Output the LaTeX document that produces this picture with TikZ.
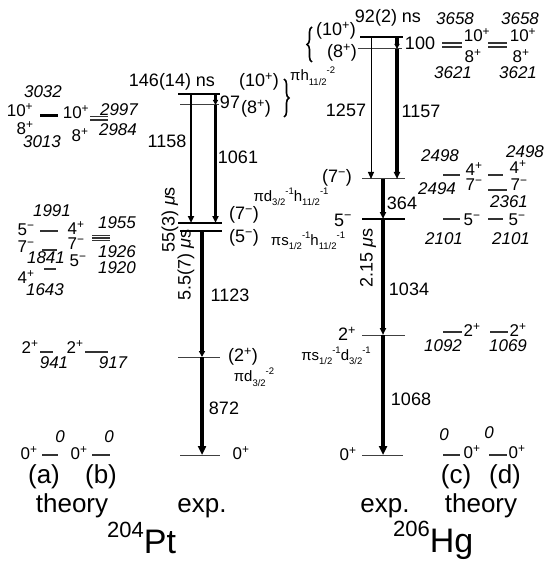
\documentclass[tikz,border=0pt]{standalone}
\usepackage{fontspec}
\setmainfont{Liberation Sans}
\usetikzlibrary{arrows.meta,decorations.pathreplacing}
\newcommand\jp[2]{#1\textsuperscript{#2}}
\newcommand\orbx[3]{#1\raisebox{-0.55ex}{\fontsize{9.5}{9.5}\selectfont#2}\raisebox{0.9ex}{\fontsize{9.5}{9.5}\selectfont#3}}
\begin{document}
\begin{tikzpicture}[x=1pt,y=-1pt,
  lab/.style={inner sep=0pt, font=\fontsize{18}{18}\selectfont},
  en/.style={inner sep=0pt, font=\fontsize{17}{17}\selectfont\itshape},
  sp/.style={inner sep=0pt, font=\fontsize{17}{17}\selectfont},
  big/.style={inner sep=0pt, font=\fontsize{26}{26}\selectfont},
  orb/.style={inner sep=0pt, font=\fontsize{15}{15}\selectfont},
  levthin/.style={line width=1pt, black!75},
  levthick/.style={line width=2.8pt},
  thlev/.style={line width=1.1pt, black!80},
  tr/.style={-{Triangle[length=7pt,width=6pt]}},
  brc/.style={decorate, decoration={brace, amplitude=5pt}, line width=1.6pt}]
\useasboundingbox (0,0) rectangle (551,561);

% ================= 204Pt experiment =================
\coordinate (P10L) at (178,94);  \coordinate (P10R) at (220,94);
\coordinate (P8L)  at (180,105); \coordinate (P8R)  at (219,105);
\coordinate (P7L)  at (178,223); \coordinate (P7R)  at (222,223);
\coordinate (P5L)  at (180,231); \coordinate (P5R)  at (222,231);
\coordinate (P2L)  at (178,357); \coordinate (P2R)  at (220,357);
\coordinate (P0L)  at (180,455); \coordinate (P0R)  at (220,455);
\draw[levthick] (P10L) -- (P10R);
\draw[levthin] (P8L) -- (P8R);
\draw[levthick] (P7L) -- (P7R);
\draw[line width=2.4pt] (P5L) -- (P5R);
\draw[levthin] (P2L) -- (P2R);
\draw[levthin] (P0L) -- (P0R);

\coordinate (t1158a) at (191,94);  \coordinate (t1158b) at (191,223);
\coordinate (t97a)   at (215.5,94);  \coordinate (t97b)   at (215.5,105);
\coordinate (t1061a) at (215.5,105); \coordinate (t1061b) at (215.5,223);
\coordinate (t1123a) at (202,231); \coordinate (t1123b) at (202,357);
\coordinate (t872a)  at (202,357); \coordinate (t872b)  at (202,455);
\draw[tr, line width=1.8pt] (t1158a) -- (t1158b);
\draw[-{Triangle[length=5pt,width=5pt]}, line width=3.2pt] (t97a) -- (t97b);
\draw[tr, line width=3.2pt] (t1061a) -- (t1061b);
\draw[-{Triangle[length=6pt,width=6pt]}, line width=4pt] (t1123a) -- (t1123b);
\draw[-{Triangle[length=9pt,width=8pt]}, line width=4pt] (t872a) -- (t872b);

\node[lab] (ptns) at (172,82) {146(14) ns};
\node[lab] (pt10) at (259,82) {(\jp{10}{+})};
\node[lab] (pt8) at (256,109) {(\jp{8}{+})};
\draw[brc] (284,79) -- (284,117);
\node[lab] (pt97) at (230,102) {97};
\node[lab] (pt1158) at (167,141) {1158};
\node[lab] (pt1061) at (238,157) {1061};
\node[lab, rotate=90] (pt55) at (170,220) {55(3) \textit{μ}s};
\node[orb] (pdh) at (291,197) {π\orbx{d}{3/2}{-1}\orbx{h}{11/2}{-1}};
\node[lab] (pt7) at (244,215) {(\jp{7}{−})};
\node[lab] (pt5) at (244,238) {(\jp{5}{−})};
\node[orb] (psh) at (308,241) {π\orbx{s}{1/2}{-1}\orbx{h}{11/2}{-1}};
\node[lab, rotate=90] (pt55b) at (186,265) {5.5(7) \textit{μ}s};
\node[lab] (pt1123) at (230,295) {1123};
\node[lab] (pt2) at (243,357) {(\jp{2}{+})};
\node[orb] (pdd) at (254,377) {π\orbx{d}{3/2}{-2}};
\node[lab] (pt872) at (224,408) {872};
\node[sp] (pt0) at (241,453) {\jp{0}{+}};

% ================= 204Pt theory =================
\draw[line width=3pt] (40,116) -- (58,116);
\draw[thlev] (90,116.5) -- (108,116.5);
\draw[thlev] (90,120) -- (108,120);
\node[en] (a3032) at (43,92) {3032};
\node[sp] (a10) at (20,110) {\jp{10}{+}};
\node[sp] (a8) at (25,128) {\jp{8}{+}};
\node[en] (a3013) at (42,142) {3013};
\node[sp] (b10) at (76,112) {\jp{10}{+}};
\node[en] (b2997) at (119,110) {2997};
\node[sp] (b8) at (80,135) {\jp{8}{+}};
\node[en] (b2984) at (118,130) {2984};

\draw[thlev] (40,231) -- (58,231);
\draw[thlev] (42,250) -- (57,250);
\draw[thlev] (44,269) -- (56,269);
\node[en] (a1991) at (52,211) {1991};
\node[sp] (a5) at (26,230) {\jp{5}{−}};
\node[sp] (a7) at (26,247) {\jp{7}{−}};
\node[en] (a1841) at (46,258) {1841};
\node[sp] (a4) at (26,277) {\jp{4}{+}};
\node[en] (a1643) at (45,290) {1643};
\draw[thlev] (92,235.5) -- (110,235.5);
\draw[thlev] (92,238) -- (110,238);
\draw[thlev] (92,240.5) -- (110,240.5);
\node[sp] (b4) at (76,228) {\jp{4}{+}};
\node[en] (b1955) at (117,223) {1955};
\node[sp] (b7) at (76,244) {\jp{7}{−}};
\node[en] (b1926) at (117,252) {1926};
\node[sp] (b5) at (78,261) {\jp{5}{−}};
\node[en] (b1920) at (117,268) {1920};

\draw[thlev] (40,352) -- (53,352);
\draw[thlev] (85,352) -- (108,352);
\node[sp] (a2) at (30,347) {\jp{2}{+}};
\node[en] (a941) at (54,363) {941};
\node[sp] (b2) at (75,347) {\jp{2}{+}};
\node[en] (b917) at (113,363) {917};

\draw[thlev] (42,455) -- (58,455);
\draw[thlev] (92,455) -- (110,455);
\node[sp] (a0) at (29,453) {\jp{0}{+}};
\node[en] (a0e) at (60,437) {0};
\node[sp] (b0) at (79,453) {\jp{0}{+}};
\node[en] (b0e) at (109,437) {0};
\node[big, anchor=base] (pa) at (44,483) {(a)};
\node[big, anchor=base] (pb) at (101,483) {(b)};
\node[big, anchor=base] (pth1) at (72,512) {theory};
\node[big, anchor=base] (pex) at (202,512) {exp.};
\node[inner sep=0pt, anchor=base west] (ptname) at (107,553) {\raisebox{16pt}{\fontsize{22}{22}\selectfont 204}\fontsize{34}{34}\selectfont Pt};

% ================= 206Hg experiment =================
\coordinate (H10L) at (360,37);  \coordinate (H10R) at (403,37);
\coordinate (H8L)  at (358,49);  \coordinate (H8R)  at (402,49);
\coordinate (H7L)  at (362,179); \coordinate (H7R)  at (405,179);
\coordinate (H5L)  at (362,219); \coordinate (H5R)  at (405,219);
\coordinate (H2L)  at (362,335); \coordinate (H2R)  at (405,335);
\coordinate (H0L)  at (362,455); \coordinate (H0R)  at (403,455);
\draw[levthick] (H10L) -- (H10R);
\draw[levthin] (H8L) -- (H8R);
\draw[levthin] (H7L) -- (H7R);
\draw[levthick] (H5L) -- (H5R);
\draw[levthin] (H2L) -- (H2R);
\draw[levthin] (H0L) -- (H0R);

\coordinate (t1257a) at (371,37);  \coordinate (t1257b) at (371,179);
\coordinate (t100a)  at (397,37);  \coordinate (t100b)  at (397,49);
\coordinate (t1157a) at (397,49);  \coordinate (t1157b) at (397,179);
\coordinate (t364a)  at (383,179); \coordinate (t364b)  at (383,219);
\coordinate (t1034a) at (383,219); \coordinate (t1034b) at (383,335);
\coordinate (t1068a) at (383,335); \coordinate (t1068b) at (383,455);
\draw[tr, line width=1pt] (t1257a) -- (t1257b);
\draw[-{Triangle[length=5pt,width=5pt]}, line width=3.2pt] (t100a) -- (t100b);
\draw[tr, line width=3.4pt] (t1157a) -- (t1157b);
\draw[tr, line width=4pt] (t364a) -- (t364b);
\draw[tr, line width=4pt] (t1034a) -- (t1034b);
\draw[-{Triangle[length=9pt,width=8pt]}, line width=4pt] (t1068a) -- (t1068b);

\node[lab] (hgns) at (388,18) {92(2) ns};
\node[lab] (hg10) at (336,31) {(\jp{10}{+})};
\node[lab] (hg8) at (342,53) {(\jp{8}{+})};
\draw[brc] (312,62) -- (312,27);
\node[orb, anchor=west] (hh) at (290,76) {π\orbx{h}{11/2}{-2}};
\node[lab] (hg100) at (420,43) {100};
\node[lab] (hg1257) at (346,110) {1257};
\node[lab] (hg1157) at (421,111) {1157};
\node[lab] (hg7) at (337,178) {(\jp{7}{−})};
\node[lab] (hg364) at (402,203) {364};
\node[lab] (hg5) at (343,220) {\jp{5}{−}};
\node[lab, rotate=90] (hg215) at (368,258) {2.15 \textit{μ}s};
\node[lab] (hg1034) at (409,289) {1034};
\node[lab] (hg2) at (347,334) {\jp{2}{+}};
\node[orb] (hgsd) at (336,356) {π\orbx{s}{1/2}{-1}\orbx{d}{3/2}{-1}};
\node[lab] (hg1068) at (411,399) {1068};
\node[sp] (hg0) at (348,454) {\jp{0}{+}};

% ================= 206Hg theory =================
\draw[thlev] (442,43) -- (462,43);
\draw[thlev] (442,47) -- (462,47);
\draw[thlev] (488,43) -- (507,43);
\draw[thlev] (488,47) -- (507,47);
\node[en] (c3658) at (455,19) {3658};
\node[en] (d3658) at (520,19) {3658};
\node[sp] (c10) at (477,35) {\jp{10}{+}};
\node[sp] (d10) at (523,35) {\jp{10}{+}};
\node[sp] (c8) at (473,56) {\jp{8}{+}};
\node[sp] (d8) at (521,56) {\jp{8}{+}};
\node[en] (c3621) at (453,73) {3621};
\node[en] (d3621) at (518,73) {3621};

\draw[thlev] (443,175) -- (460,175);
\draw[thlev] (488,175) -- (503,175);
\draw[thlev] (488,190) -- (507,190);
\node[en] (c2498) at (440,156) {2498};
\node[en] (d2498) at (525,152) {2498};
\node[sp] (c4) at (474,169) {\jp{4}{+}};
\node[sp] (d4) at (518,167) {\jp{4}{+}};
\node[sp] (c7) at (474,185) {\jp{7}{−}};
\node[sp] (d7) at (519,185) {\jp{7}{−}};
\node[en] (c2494) at (437,189) {2494};
\node[en] (d2361) at (509,202) {2361};

\draw[thlev] (443,219) -- (460,219);
\draw[thlev] (488,219) -- (503,219);
\node[sp] (c5) at (472,220) {\jp{5}{−}};
\node[sp] (d5) at (517,220) {\jp{5}{−}};
\node[en] (c2101) at (444,239) {2101};
\node[en] (d2101) at (511,239) {2101};

\draw[thlev] (443,332) -- (462,332);
\draw[thlev] (490,332) -- (508,332);
\node[sp] (c2) at (472,330) {\jp{2}{+}};
\node[sp] (d2) at (518,330) {\jp{2}{+}};
\node[en] (c1092) at (443,346) {1092};
\node[en] (d1069) at (508,346) {1069};

\draw[thlev] (443,455) -- (460,455);
\draw[thlev] (489,455) -- (507,455);
\node[sp] (c0) at (472,452) {\jp{0}{+}};
\node[sp] (d0) at (517,452) {\jp{0}{+}};
\node[en] (c0e) at (444,435) {0};
\node[en] (d0e) at (489,433) {0};
\node[big, anchor=base] (hc) at (456,483) {(c)};
\node[big, anchor=base] (hd) at (505,483) {(d)};
\node[big, anchor=base] (hex) at (385,512) {exp.};
\node[big, anchor=base] (hth) at (481,512) {theory};
\node[inner sep=0pt, anchor=base west] (hgname) at (393,552) {\raisebox{16pt}{\fontsize{22}{22}\selectfont 206}\fontsize{34}{34}\selectfont Hg};
\end{tikzpicture}
\end{document}
